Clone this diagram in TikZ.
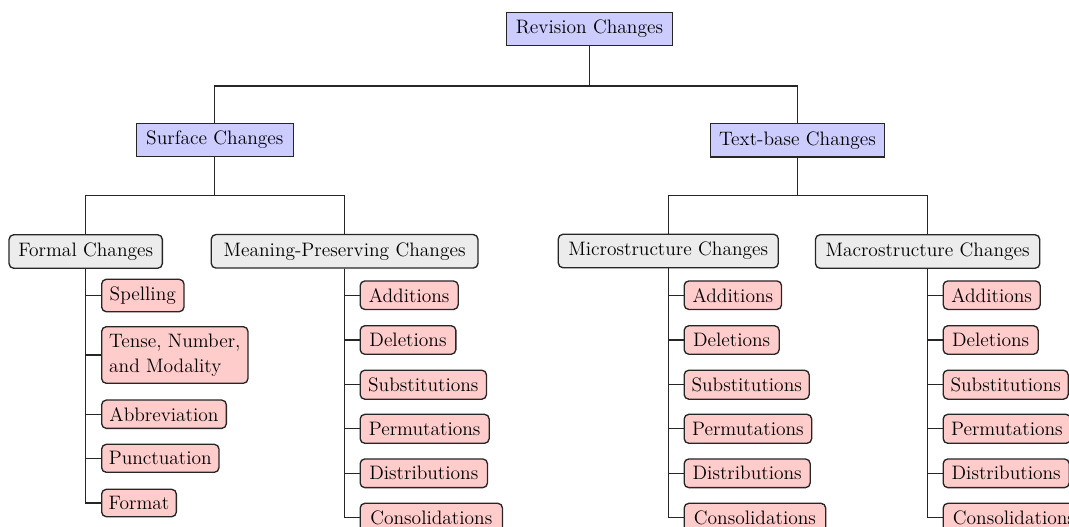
\documentclass[tikz,border=0pt]{standalone}
\begin{document}
\begin{tikzpicture}[x=0.75pt,y=-0.75pt,
  every node/.style={font=\rmfamily\fontsize{14.6pt}{18.75pt}\selectfont, text=black, inner sep=0pt, draw=black!85, line width=1pt},
  sz/.style 2 args={minimum width=#1*0.75pt, minimum height=#2*0.75pt},
  rootbox/.style={rectangle, fill=blue!20},
  midbox/.style={rectangle, rounded corners=3.5pt, fill=gray!15},
  leafbox/.style={rectangle, rounded corners=3.5pt, fill=red!20, anchor=west},
  conn/.style={draw=black!85, line width=1pt}]
\clip (0,0) rectangle (1069,526);
% level 0 and 1
\node[rootbox, sz={166.4}{33}] (rev) at (589.5,28.8) {Revision Changes};
\node[rootbox, sz={157}{33.4}] (surf) at (214.8,140) {Surface Changes};
\node[rootbox, sz={174.4}{33.7}] (tb) at (797.5,140.2) {Text-base Changes};
% level 2
\node[midbox, sz={153.3}{33.5}] (formal) at (85.7,251.5) {Formal Changes};
\node[midbox, sz={266.7}{33.5}] (mean) at (344.6,251.3) {Meaning-Preserving Changes};
\node[midbox, sz={220}{33.5}] (micro) at (668.3,251) {Microstructure Changes};
\node[midbox, sz={224.3}{33.5}] (macro) at (927.6,251.5) {Macrostructure Changes};
% formal children
\node[leafbox, sz={82.3}{32.4}] (f1) at (101,295.5) {Spelling};
\node[leafbox, sz={146.3}{56.6}, align=left] (f2) at (101,355) {Tense, Number,\\and Modality};
\node[leafbox, sz={124.7}{28.3}] (f3) at (101,414.2) {Abbreviation};
\node[leafbox, sz={117.3}{28}] (f4) at (101,458.3) {Punctuation};
\node[leafbox, sz={74.7}{27.4}] (f5) at (101,503) {Format};
% meaning-preserving children
\node[leafbox, sz={98}{28.5}] (m1) at (359.5,295.2) {Additions};
\node[leafbox, sz={95.7}{28.5}] (m2) at (359.5,340) {Deletions};
\node[leafbox, sz={126.3}{29}] (m3) at (359.5,384.7) {Substitutions};
\node[leafbox, sz={129}{29}] (m4) at (359.5,428.8) {Permutations};
\node[leafbox, sz={127.3}{28.7}] (m5) at (359.5,473.3) {Distributions};
\node[leafbox, sz={142.3}{29}] (m6) at (359.5,517.8) {Consolidations};
% micro children
\node[leafbox, sz={97.4}{28.5}] (a1) at (683.5,295.2) {Additions};
\node[leafbox, sz={95}{28.5}] (a2) at (683.5,340) {Deletions};
\node[leafbox, sz={125}{29}] (a3) at (683.5,384.7) {Substitutions};
\node[leafbox, sz={127.5}{29}] (a4) at (683.5,428.8) {Permutations};
\node[leafbox, sz={126}{28.7}] (a5) at (683.5,473.3) {Distributions};
\node[leafbox, sz={141.5}{29}] (a6) at (683.5,517.8) {Consolidations};
% macro children
\node[leafbox, sz={97}{28.5}] (b1) at (942.5,295.2) {Additions};
\node[leafbox, sz={95}{28.5}] (b2) at (942.5,340) {Deletions};
\node[leafbox, sz={125}{29}] (b3) at (942.5,384.7) {Substitutions};
\node[leafbox, sz={127.5}{29}] (b4) at (942.5,428.8) {Permutations};
\node[leafbox, sz={126}{28.7}] (b5) at (942.5,473.3) {Distributions};
\node[leafbox, sz={141.5}{29}] (b6) at (942.5,517.8) {Consolidations};
% connectors
\draw[conn] (rev.south) -- ++(0,40) -| (surf.north);
\draw[conn] (rev.south) -- ++(0,40) -| (tb.north);
\draw[conn] (surf.south) -- ++(0,38.3) -| (formal.north);
\draw[conn] (surf.south) -- ++(0,38.3) -| (mean.north);
\draw[conn] (tb.south) -- ++(0,37.8) -| (micro.north);
\draw[conn] (tb.south) -- ++(0,37.8) -| (macro.north);
\foreach \c in {f1,f2,f3,f4,f5} \draw[conn] (formal.south) |- (\c.west);
\foreach \c in {m1,m2,m3,m4,m5,m6} \draw[conn] (mean.south) |- (\c.west);
\foreach \c in {a1,a2,a3,a4,a5,a6} \draw[conn] (micro.south) |- (\c.west);
\foreach \c in {b1,b2,b3,b4,b5,b6} \draw[conn] (macro.south) |- (\c.west);
\end{tikzpicture}
\end{document}
